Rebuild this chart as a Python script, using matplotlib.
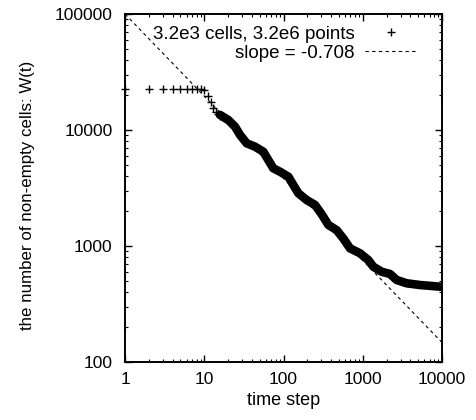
import matplotlib
matplotlib.use("Agg")
import matplotlib.pyplot as plt
from matplotlib.ticker import LogLocator, FuncFormatter, NullFormatter
import numpy as np

plt.rcParams['font.family'] = ['Liberation Sans', 'DejaVu Sans']

# early, individually visible points (time step, W)
t_early = [1, 2, 3, 4, 5, 6, 7, 8, 9, 10, 11, 12, 13, 14, 15, 16, 17, 18, 19, 20]
w_early = [22500, 22500, 22500, 22500, 22500, 22500, 22500, 22500, 22500, 22300,
           19500, 17500, 15500, 14400, 13800, 13300, 12900, 12600, 12400, 12200]

# dense part of the series (read along the thick band of markers)
t_band = [15.8, 20.1, 24.4, 28.3, 34.3, 43.7, 55.6, 64.3, 74.3, 90.3, 115, 133,
          154, 196, 250, 303, 368, 469, 569, 691, 923, 1175, 1359, 1734, 2207,
          2682, 3589, 5275, 9440, 10000]
w_band = [13500, 12200, 10700, 9060, 7680, 7180, 6500, 5510, 4680, 4370, 3960,
          3360, 2850, 2490, 2260, 1880, 1520, 1370, 1160, 955, 865, 757, 663, 600,
          574, 509, 477, 461, 446, 445]

# fitted power law
slope = -0.708
intercept = 1.0e5
fit_t = [1, 10000]

x_ticks = [1, 10, 100, 1000, 10000]
y_ticks = [100, 1000, 10000, 100000]

fig = plt.figure(figsize=(4.76, 4.2), dpi=100)
ax = fig.add_axes([125/476, 1-362/420, 317/476, 348/420])

ax.set_xscale('log')
ax.set_yscale('log')

ax.plot(t_band, w_band, color='black', lw=6.2, solid_joinstyle='round',
        solid_capstyle='round', zorder=2)
ax.plot(t_early, w_early, linestyle='none', marker='+', color='black',
        markersize=6, markeredgewidth=1.0, clip_on=False, zorder=3,
        label='3.2e3 cells, 3.2e6 points')
fit_w = [intercept * t ** slope for t in fit_t]
ax.plot(fit_t, fit_w, color='black', lw=0.8, linestyle=(0, (3, 3)), zorder=1,
        label='slope = -0.708')

ax.set_xlim(1, 10000)
ax.set_ylim(100, 100000)
ax.set_xticks(x_ticks)
ax.set_yticks(y_ticks)
fmt = FuncFormatter(lambda v, p: '%d' % round(v))
ax.xaxis.set_major_formatter(fmt)
ax.yaxis.set_major_formatter(fmt)
ax.xaxis.set_minor_locator(LogLocator(base=10, subs=np.arange(2, 10)))
ax.yaxis.set_minor_locator(LogLocator(base=10, subs=np.arange(2, 10)))
ax.xaxis.set_minor_formatter(NullFormatter())
ax.yaxis.set_minor_formatter(NullFormatter())

ax.tick_params(which='both', direction='in', top=True, right=True, labelsize=12.5,
               colors='black')
ax.tick_params(which='major', length=5, width=1.0)
ax.tick_params(which='minor', length=2.5, width=0.8)
ax.tick_params(axis='x', pad=7)
ax.tick_params(axis='y', pad=9)
for s in ax.spines.values():
    s.set_linewidth(1.4)

ax.set_xlabel('time step', fontsize=13)
ax.set_ylabel('the number of non-empty cells: W(t)', fontsize=12.2)
ax.xaxis.set_label_coords(0.5, -0.085)
ax.yaxis.set_label_coords(-0.285, 0.48)

ax.legend(loc='upper right', bbox_to_anchor=(0.924, 0.967), frameon=False,
          markerfirst=False, fontsize=13.5, handlelength=2.83, handletextpad=0.53,
          borderpad=0, borderaxespad=0, labelspacing=0.1)

fig.savefig('out.png', dpi=100)
